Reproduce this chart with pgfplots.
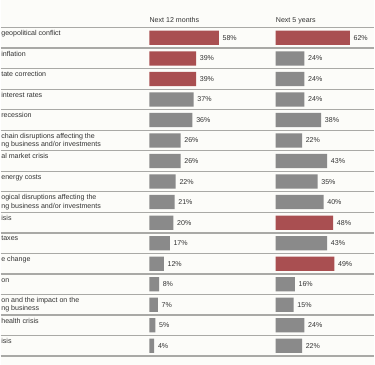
\documentclass[border=0pt]{standalone}
\usepackage{pgfplots}
\pgfplotsset{compat=1.18}
\usepackage{fontspec}
\setmainfont{Liberation Sans}
\definecolor{bg}{HTML}{FCFCF9}
\definecolor{barred}{HTML}{A94F51}
\definecolor{bargray}{HTML}{8A8A8A}
\definecolor{sep}{HTML}{A9A9A6}
\definecolor{txt}{HTML}{333333}
\newcommand{\lf}{\fontsize{7.1}{8.3}\selectfont}
\begin{document}
\begin{tikzpicture}
% ---------- frame: separators and labels (pixel coordinates) ----------
\begin{axis}[
  at={(0pt,0pt)}, anchor=south west,
  scale only axis, width=375pt, height=366pt,
  xmin=0, xmax=375, ymin=0, ymax=366, y dir=reverse,
  hide axis, clip=false,
  axis background/.style={fill=bg},
]
\addplot[draw=none, forget plot] coordinates {(0,0) (375,366)};
\pgfplotsinvokeforeach{0,...,16}{
  \draw[sep, line width=1.3pt] (axis cs:0,{27.7+20.6*#1}) -- (axis cs:375,{27.7+20.6*#1});
}
\tikzset{lab/.style={anchor=base west, inner sep=0pt, font=\lf, text=txt}}
\node[lab] at (axis cs:149.3,22.3) {Next 12 months};
\node[lab] at (axis cs:276,22.3) {Next 5 years};
\node[lab] at (axis cs:0.5,35.8) {geopolitical conflict};
\node[lab] at (axis cs:0.5,56.4) {inflation};
\node[lab] at (axis cs:0.5,77.0) {tate correction};
\node[lab] at (axis cs:0.5,97.6) {interest rates};
\node[lab] at (axis cs:0.5,118.2) {recession};
\node[lab] at (axis cs:0.5,138.8) {chain disruptions affecting the};
\node[lab] at (axis cs:0.5,147.1) {ng business and/or investments};
\node[lab] at (axis cs:0.5,159.4) {al market crisis};
\node[lab] at (axis cs:0.5,180.0) {energy costs};
\node[lab] at (axis cs:0.5,200.6) {ogical disruptions affecting the};
\node[lab] at (axis cs:0.5,208.9) {ng business and/or investments};
\node[lab] at (axis cs:0.5,221.2) {isis};
\node[lab] at (axis cs:0.5,241.8) {taxes};
\node[lab] at (axis cs:0.5,262.4) {e change};
\node[lab] at (axis cs:0.5,283.0) {on};
\node[lab] at (axis cs:0.5,303.6) {on and the impact on the};
\node[lab] at (axis cs:0.5,311.9) {ng business};
\node[lab] at (axis cs:0.5,324.2) {health crisis};
\node[lab] at (axis cs:0.5,344.8) {isis};
\end{axis}
% ---------- common bar style ----------
\pgfplotsset{
  barax/.style={
    anchor=south west, scale only axis, height=366pt,
    xmin=0, ymin=-0.8447, ymax=16.922, y dir=reverse,
    hide axis, clip=false,
  },
  bars/.style={
    xbar, bar shift=0pt, bar width=14.3pt, draw=none, fill=#1,
    point meta=x,
    nodes near coords={\pgfmathprintnumber[assume math mode=true]{\pgfplotspointmeta}\%},
    every node near coord/.append style={anchor=west, inner sep=0pt, xshift=3.6pt, font=\lf, text=txt},
  },
}
% ---------- Next 12 months ----------
\begin{axis}[barax, at={(149.3pt,0pt)}, width=120pt, xmax=100]
\addplot[bars=bargray] coordinates {
 (37,4) (36,5) (26,6) (26,7) (22,8) (21,9) (20,10) (17,11) (12,12) (8,13) (7,14) (5,15) (4,16)};
\addplot[bars=barred] coordinates {(58,1) (39,2) (39,3)};
\end{axis}
% ---------- Next 5 years ----------
\begin{axis}[barax, at={(276pt,0pt)}, width=96pt, xmax=80]
\addplot[bars=bargray] coordinates {
 (24,2) (24,3) (24,4) (38,5) (22,6) (43,7) (35,8) (40,9) (43,11) (16,13) (15,14) (24,15) (22,16)};
\addplot[bars=barred] coordinates {(62,1) (48,10) (49,12)};
\end{axis}
\end{tikzpicture}
\end{document}
